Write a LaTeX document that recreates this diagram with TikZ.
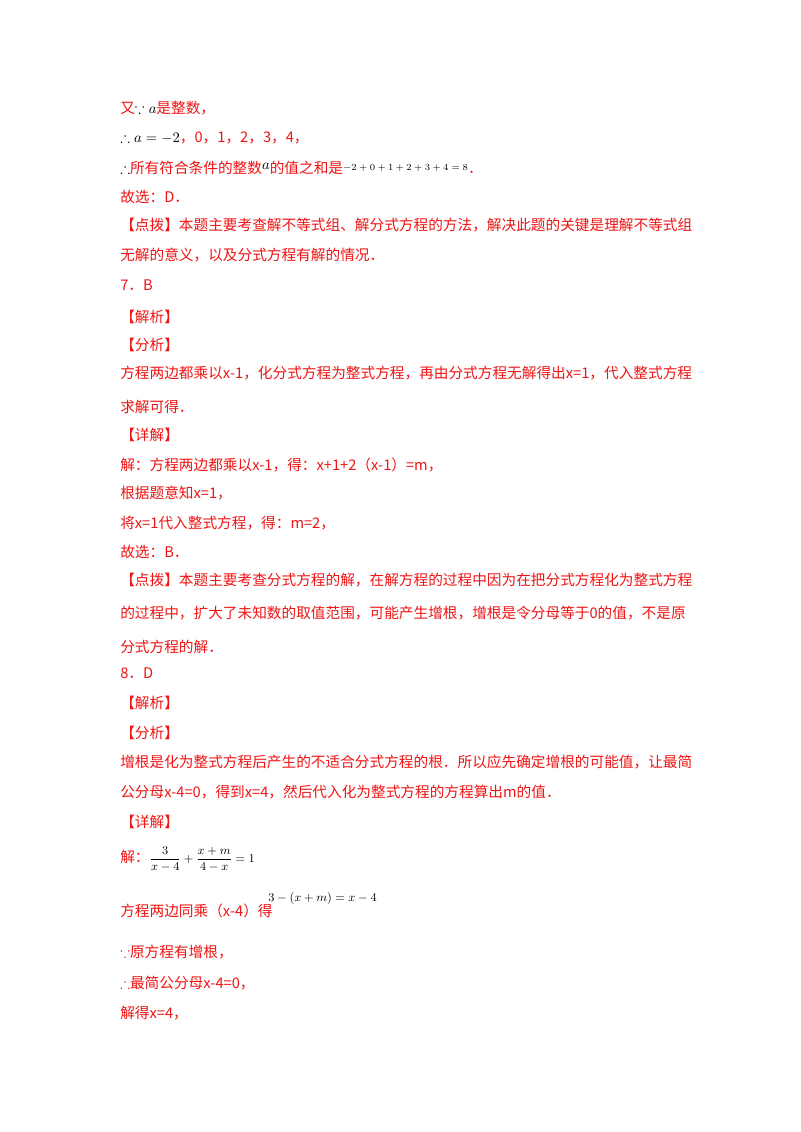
\documentclass[tikz,border=0pt]{standalone}
\usepackage{amsmath,amssymb}
\usepackage{fontspec}
\setmainfont{Liberation Serif}
\newfontfamily\cjk{Noto Sans CJK SC}
\definecolor{txtred}{RGB}{240,20,20}
\begin{document}
\begin{tikzpicture}[x=0.75pt,y=-0.75pt,
  ln/.style={anchor=west,inner sep=0pt,text=txtred,font=\cjk\fontsize{11}{13}\selectfont}]
\useasboundingbox[fill=white] (0,0) rectangle (800,1132);
\node[ln] (l1) at (120,108) {又\textcolor{black}{$\because a$}是整数，};
\node[ln] (l2) at (120,138) {\textcolor{black}{$\therefore a=-2$}，0，1，2，3，4，};
\node[ln] (l3) at (120,168) {\textcolor{black}{$\therefore$}所有符合条件的整数\raisebox{3pt}{\textcolor{black}{$a$}}的值之和是\raisebox{2pt}{\textcolor{black}{\scriptsize$-2+0+1+2+3+4=8$}}．};
\node[ln] (l4) at (120,197) {故选：D．};
\node[ln] (l5) at (120,225) {【点拨】本题主要考查解不等式组、解分式方程的方法，解决此题的关键是理解不等式组};
\node[ln] (l6) at (120,255) {无解的意义，以及分式方程有解的情况．};
\node[ln] (l7) at (120,285) {7．B};
\node[ln] (l8) at (120,317) {【解析】};
\node[ln] (l9) at (120,345) {【分析】};
\node[ln] (l10) at (120,373) {方程两边都乘以x-1，化分式方程为整式方程，再由分式方程无解得出x=1，代入整式方程};
\node[ln] (l11) at (120,407) {求解可得．};
\node[ln] (l12) at (120,435) {【详解】};
\node[ln] (l13) at (120,465) {解：方程两边都乘以x-1，得：x+1+2（x-1）=m，};
\node[ln] (l14) at (120,493) {根据题意知x=1，};
\node[ln] (l15) at (120,523) {将x=1代入整式方程，得：m=2，};
\node[ln] (l16) at (120,552) {故选：B．};
\node[ln] (l17) at (120,580) {【点拨】本题主要考查分式方程的解，在解方程的过程中因为在把分式方程化为整式方程};
\node[ln] (l18) at (120,613) {的过程中，扩大了未知数的取值范围，可能产生增根，增根是令分母等于0的值，不是原};
\node[ln] (l19) at (120,647) {分式方程的解．};
\node[ln] (l20) at (120,673) {8．D};
\node[ln] (l21) at (120,703) {【解析】};
\node[ln] (l22) at (120,733) {【分析】};
\node[ln] (l23) at (120,762) {增根是化为整式方程后产生的不适合分式方程的根．所以应先确定增根的可能值，让最简};
\node[ln] (l24) at (120,792) {公分母x-4=0，得到x=4，然后代入化为整式方程的方程算出m的值．};
\node[ln] (l25) at (120,822) {【详解】};
\node[ln] (l26) at (120,859) {解：\textcolor{black}{\small$\dfrac{3}{x-4}+\dfrac{x+m}{4-x}=1$}};
\node[ln] (l27) at (120,911) {方程两边同乘（x-4）得};
\node[anchor=west,inner sep=0pt,font=\small] (m27) at (268,898) {$3-(x+m)=x-4$};
\node[ln] (l28) at (120,952) {$\because$原方程有增根，};
\node[ln] (l29) at (120,983) {$\therefore$最简公分母x-4=0，};
\node[ln] (l30) at (120,1013) {解得x=4，};
\end{tikzpicture}
\end{document}
